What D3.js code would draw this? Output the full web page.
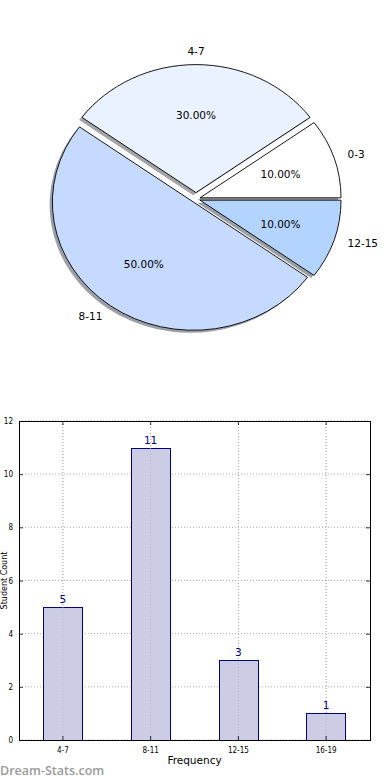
<!DOCTYPE html>
<html>
<head>
<meta charset="utf-8">
<script src="https://cdn.jsdelivr.net/npm/d3@7"></script>
<style>
  html, body { margin: 0; padding: 0; background: #fff; }
  svg { display: block; }
</style>
</head>
<body>
<svg id="chart" width="390" height="780"></svg>
<script>
// ---- data ----
const pieLabels = ["0-3", "4-7", "8-11", "12-15"];
const piePercent = [10, 30, 50, 10];
const barCategories = ["4-7", "8-11", "12-15", "16-19"];
const barValues = [5, 11, 3, 1];
const yTickValues = [0, 2, 4, 6, 8, 10, 12];

// ---- styles / layout ----
const pieFill = ["#ffffff", "#ebf2ff", "#c6d9ff", "#b3d4ff"];
const pieExplodeFrac = [0.03, 0.05, 0.03, 0.03];
const svg = d3.select("#chart");
const font = "DejaVu Sans, sans-serif";

// ---------- PIE ----------
const cx = 196, cy = 199, rx = 141, ry = 128;
const pie = d3.pie().sort(null).value(d => d)
  .startAngle(Math.PI / 2).endAngle(Math.PI / 2 - 2 * Math.PI);
const arcs = pie(piePercent);
const arcGen = d3.arc().innerRadius(0).outerRadius(rx);
const sy = ry / rx;
const pieG = svg.append("g");

arcs.forEach((a, i) => {
  const mid = (a.startAngle + a.endAngle) / 2;
  const ox = pieExplodeFrac[i] * rx * Math.sin(mid);
  const oy = -pieExplodeFrac[i] * ry * Math.cos(mid);
  const c = d3.rgb(pieFill[i]);
  const sh = d3.rgb(c.r * 0.3, c.g * 0.3, c.b * 0.3);
  // shadow
  pieG.append("path")
    .attr("d", arcGen(a))
    .attr("transform", `translate(${cx + ox - 0.02 * rx},${cy + oy + 0.02 * ry}) scale(1,${sy})`)
    .attr("fill", sh.toString())
    .attr("fill-opacity", 0.5)
    .attr("stroke", "none");
  // wedge
  pieG.append("path")
    .attr("d", arcGen(a))
    .attr("transform", `translate(${cx + ox},${cy + oy}) scale(1,${sy})`)
    .attr("fill", pieFill[i])
    .attr("stroke", "#000")
    .attr("stroke-width", 0.9)
    .attr("vector-effect", "non-scaling-stroke")
    .attr("stroke-linejoin", "round");
});

arcs.forEach((a, i) => {
  const mid = (a.startAngle + a.endAngle) / 2;
  const ox = pieExplodeFrac[i] * rx * Math.sin(mid);
  const oy = -pieExplodeFrac[i] * ry * Math.cos(mid);
  const sx = Math.sin(mid), cyv = -Math.cos(mid);
  // category label at 1.1
  const lx = cx + ox + 1.1 * rx * sx;
  const ly = cy + oy + 1.1 * ry * cyv;
  pieG.append("text")
    .attr("x", lx).attr("y", ly)
    .attr("dy", "0.35em")
    .attr("text-anchor", sx > 0.01 ? "start" : (sx < -0.01 ? "end" : "middle"))
    .attr("font-family", font).attr("font-size", "10.5px").attr("fill", "#000")
    .text(pieLabels[i]);
  // percent label at 0.6
  const px = cx + ox + 0.6 * rx * sx;
  const py = cy + oy + 0.6 * ry * cyv;
  pieG.append("text")
    .attr("x", px).attr("y", py)
    .attr("dy", "0.35em")
    .attr("text-anchor", "middle")
    .attr("font-family", font).attr("font-size", "10.5px").attr("fill", "#000")
    .text(d3.format(".2f")(piePercent[i]) + "%");
});

// ---------- BAR ----------
const L = 19, R = 370, T = 421, B = 740;
const x = d3.scaleBand().domain(barCategories).range([L, R]).paddingInner(0.55).paddingOuter(0.275);
const y = d3.scaleLinear().domain([0, 12]).range([B, T]);
const barG = svg.append("g");
const xc = c => x(c) + x.bandwidth() / 2;

// grid
barG.append("g").selectAll("line").data(yTickValues).join("line")
  .attr("x1", L).attr("x2", R).attr("y1", d => y(d)).attr("y2", d => y(d))
  .attr("stroke", "#b0b0b0").attr("stroke-width", 1).attr("stroke-dasharray", "1,2");
barG.append("g").selectAll("line").data(barCategories).join("line")
  .attr("x1", d => xc(d)).attr("x2", d => xc(d)).attr("y1", T).attr("y2", B)
  .attr("stroke", "#b0b0b0").attr("stroke-width", 1).attr("stroke-dasharray", "1,2");

// bars
barG.append("g").selectAll("rect").data(barValues).join("rect")
  .attr("x", (d, i) => Math.round(x(barCategories[i])) + 0.5)
  .attr("y", d => Math.round(y(d)) + 0.5)
  .attr("width", Math.round(x.bandwidth()))
  .attr("height", d => Math.round(y(0)) - Math.round(y(d)))
  .attr("fill", "#ccccE5")
  .attr("stroke", "#000080").attr("stroke-width", 1);

// grid visible through bars
barG.append("g").selectAll("line").data(barCategories).join("line")
  .attr("x1", d => xc(d)).attr("x2", d => xc(d)).attr("y1", T).attr("y2", B)
  .attr("stroke", "#a8a8b8").attr("stroke-width", 1).attr("stroke-dasharray", "1,2")
  .attr("opacity", 0.6);

// value labels
barG.append("g").selectAll("text").data(barValues).join("text")
  .attr("x", (d, i) => xc(barCategories[i]))
  .attr("y", d => y(d) - 4)
  .attr("text-anchor", "middle")
  .attr("font-family", font).attr("font-size", "10.5px").attr("fill", "#000080")
  .text(d => d);

// axes
const tickFont = "'Liberation Sans Narrow', 'DejaVu Sans Condensed', sans-serif";
const yAxis = d3.axisLeft(y).tickValues(yTickValues).tickSize(-4).tickPadding(6);
const yAx = barG.append("g").attr("transform", `translate(${L},0)`).call(yAxis);
const xAxis = d3.axisBottom(x).tickSize(-4).tickPadding(7);
const xAx = barG.append("g").attr("transform", `translate(0,${B})`).call(xAxis);
const yAxR = barG.append("g").attr("transform", `translate(${R},0)`)
  .call(d3.axisRight(y).tickValues(yTickValues).tickSize(-4).tickFormat(""));
const xAxT = barG.append("g").attr("transform", `translate(0,${T})`)
  .call(d3.axisTop(x).tickSize(-4).tickFormat(""));
[yAx, xAx, yAxR, xAxT].forEach(g => {
  g.select(".domain").remove();
  g.selectAll(".tick line").attr("stroke", "#000").attr("stroke-width", 0.8);
  g.selectAll("text").attr("font-family", tickFont).attr("font-size", "8px").attr("fill", "#000");
});

// frame
barG.append("rect")
  .attr("x", L + 0.5).attr("y", T + 0.5).attr("width", R - L).attr("height", B - T)
  .attr("fill", "none").attr("stroke", "#000").attr("stroke-width", 1);

// axis labels
svg.append("text").attr("x", (L + R) / 2).attr("y", 764)
  .attr("text-anchor", "middle").attr("font-family", font).attr("font-size", "10.5px")
  .text("Frequency");
svg.append("text")
  .attr("transform", `translate(7,${(T + B) / 2}) rotate(-90)`)
  .attr("text-anchor", "middle").attr("font-family", font).attr("font-size", "8px")
  .text("Student Count");

// watermark
svg.append("text").attr("x", 0).attr("y", 775)
  .attr("font-family", "'Open Sans', sans-serif").attr("font-size", "12.5px").attr("font-weight", "600")
  .attr("fill", "#9a9a9a").text("Dream-Stats.com");
</script>
</body>
</html>
